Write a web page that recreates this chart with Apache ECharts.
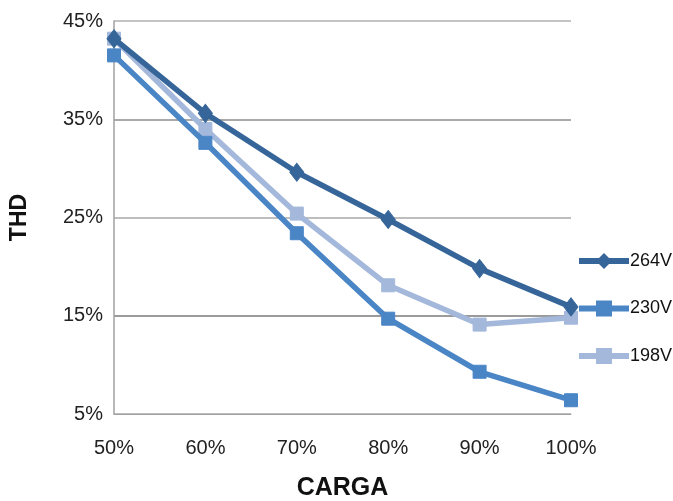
<!DOCTYPE html>
<html>
<head>
<meta charset="utf-8">
<script src="https://cdn.jsdelivr.net/npm/echarts@6/dist/echarts.min.js"></script>
<style>
  html, body { margin: 0; padding: 0; background: #fff; }
  #chart { width: 673px; height: 501px; }
</style>
</head>
<body>
<div id="chart"></div>
<script>
// Load level categories (x axis)
const categories = ['50%', '60%', '70%', '80%', '90%', '100%'];

// THD (%) measured at each load level, per supply voltage
const thd264 = [43.2, 35.6, 29.6, 24.8, 19.8, 15.9];
const thd230 = [41.5, 32.6, 23.4, 14.7, 9.3, 6.4];
const thd198 = [43.2, 34.0, 25.4, 18.1, 14.1, 14.8];

// Y axis ticks
const yMin = 5, yMax = 45, yStep = 10;

const seriesNames = ['264V', '230V', '198V'];
const seriesColors = ['#366599', '#4a85c6', '#a3b8da'];
const seriesSymbols = ['diamond', 'rect', 'rect'];
const seriesData = [thd264, thd230, thd198];

const chart = echarts.init(document.getElementById('chart'));

chart.setOption({
  animation: false,
  backgroundColor: '#ffffff',
  textStyle: { fontFamily: 'Liberation Sans, Arial, sans-serif' },
  grid: { left: 114, right: 102, top: 21, bottom: 87, containLabel: false, outerBoundsMode: 'none' },
  legend: {
    orient: 'vertical',
    left: 576,
    top: 252,
    padding: 0,
    itemGap: 29.5,
    itemWidth: 50,
    itemHeight: 20,
    lineStyle: { width: 6 },
    textStyle: {
      fontFamily: 'Liberation Sans, Arial, sans-serif',
      fontSize: 18,
      color: '#111',
      padding: [0, 0, 0, -4]
    },
    data: seriesNames
  },
  xAxis: {
    type: 'category',
    data: categories,
    boundaryGap: false,
    name: 'CARGA',
    nameLocation: 'middle',
    nameGap: 62,
    nameTextStyle: { fontSize: 25, fontWeight: 'bold', color: '#111' },
    axisLine: { lineStyle: { color: '#a0a0a0', width: 1 } },
    axisTick: { show: false },
    axisLabel: { fontSize: 20, color: '#222', margin: 24 },
    splitLine: { show: false }
  },
  yAxis: {
    type: 'value',
    min: yMin,
    max: yMax,
    interval: yStep,
    name: 'THD',
    nameLocation: 'middle',
    nameGap: 83,
    nameTextStyle: { fontSize: 23, fontWeight: 'bold', color: '#111' },
    axisLine: { show: true, lineStyle: { color: '#a0a0a0', width: 1.5 } },
    axisTick: { show: false },
    axisLabel: { fontSize: 20, color: '#222', margin: 11, formatter: '{value}%' },
    splitLine: {
      show: true,
      lineStyle: { color: ['#a8a8a8', '#7a7a7a', '#a8a8a8', '#8c8c8c', '#b0b0b0'], width: 1.6 }
    }
  },
  series: seriesNames.map((name, i) => ({
    name: name,
    type: 'line',
    data: seriesData[i],
    symbol: seriesSymbols[i],
    symbolSize: i === 0 ? [14, 18] : 13,
    showSymbol: true,
    z: 10 - i,
    lineStyle: { color: seriesColors[i], width: 5.5 },
    itemStyle: { color: seriesColors[i], borderColor: seriesColors[i] }
  }))
});
</script>
</body>
</html>
